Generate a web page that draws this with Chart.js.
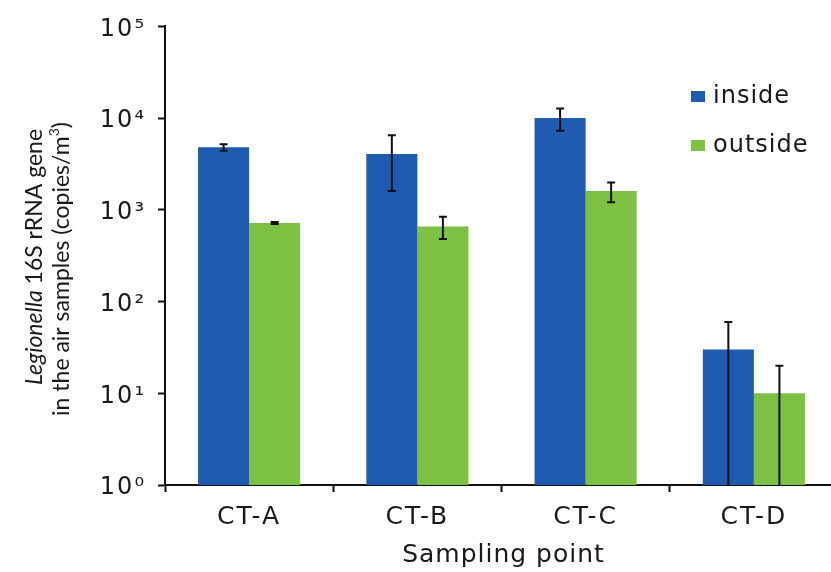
<!DOCTYPE html>
<html>
<head>
<meta charset="utf-8">
<script src="https://cdn.jsdelivr.net/npm/chart.js@4.4.1/dist/chart.umd.min.js"></script>
<style>
  html, body { margin: 0; padding: 0; background: #fff; overflow: hidden; }
  #wrap { position: relative; width: 845px; height: 572px; }
</style>
</head>
<body>
<div id="wrap"><canvas id="chart"></canvas></div>
<script>
// Sampling points and Legionella 16S rRNA gene copies per m3 (mean and SD)
const categories = ['CT-A', 'CT-B', 'CT-C', 'CT-D'];
const seriesNames = ['inside', 'outside'];
const insideMean = [4800, 4050, 10000, 30];
const insideSD = [380, 2450, 2700, 30];
const outsideMean = [720, 660, 1600, 10];
const outsideSD = [18, 180, 390, 10];
const yTickValues = [1, 10, 100, 1000, 10000, 100000];
const yTickLabels = ['10\u2070', '10\u00B9', '10\u00B2', '10\u00B3', '10\u2074', '10\u2075'];
const xTitle = 'Sampling point';

const BLUE = '#1f5bb1';
const GREEN = '#7dc143';
const INK = '#1a1a1a';
const MAIN_FONT = 'DejaVu Sans, Verdana, sans-serif';
const SPACING = '2px';

// slightly open lettering for the Verdana-style axis text
const spacingPlugin = {
  id: 'spacing',
  beforeUpdate(chart) { chart.ctx.letterSpacing = SPACING; },
  beforeDraw(chart) { chart.ctx.letterSpacing = SPACING; }
};

// vertical SD whiskers on every bar
const errorBars = {
  id: 'errorBars',
  afterDatasetsDraw(chart) {
    const { ctx, chartArea } = chart;
    const y = chart.scales.y;
    ctx.save();
    ctx.strokeStyle = '#111';
    ctx.lineWidth = 2;
    chart.data.datasets.forEach((ds, i) => {
      const meta = chart.getDatasetMeta(i);
      meta.data.forEach((bar, j) => {
        const m = ds.data[j], sd = ds.sd[j];
        const top = y.getPixelForValue(m + sd);
        const low = m - sd;
        const bottom = low > 0 ? y.getPixelForValue(low) : chartArea.bottom;
        const cap = 4;
        ctx.beginPath();
        ctx.moveTo(bar.x, top); ctx.lineTo(bar.x, bottom);
        ctx.moveTo(bar.x - cap, top); ctx.lineTo(bar.x + cap, top);
        if (low > 0) { ctx.moveTo(bar.x - cap, bottom); ctx.lineTo(bar.x + cap, bottom); }
        ctx.stroke();
      });
    });
    ctx.restore();
  }
};

// axis titles and the legend
const annotations = {
  id: 'annotations',
  afterDraw(chart) {
    const { ctx, chartArea } = chart;
    ctx.save();
    ctx.fillStyle = INK;

    // legend
    ctx.letterSpacing = '1px';
    ctx.font = '24px ' + MAIN_FONT;
    ctx.textAlign = 'left';
    ctx.textBaseline = 'alphabetic';
    const legendRows = [{ y: 103 }, { y: 152 }];
    chart.data.datasets.forEach((ds, i) => {
      const row = legendRows[i];
      ctx.fillStyle = ds.backgroundColor;
      ctx.fillRect(691, row.y - 12, 14, 11);
      ctx.fillStyle = INK;
      ctx.fillText(ds.label, 713, row.y);
    });

    // x-axis title
    ctx.textAlign = 'center';
    ctx.letterSpacing = '1px';
    ctx.font = '25px ' + MAIN_FONT;
    ctx.fillText(xTitle, (chartArea.left + chartArea.right) / 2 + 2, 562);

    // y-axis title, two rotated lines
    ctx.letterSpacing = '0px';
    const size = 23;
    const upright = size + 'px Lato, sans-serif';
    const italic = 'italic ' + size + 'px Lato, sans-serif';
    const supFont = Math.round(size * 0.62) + 'px Lato, sans-serif';

    ctx.rotate(-Math.PI / 2);
    ctx.textAlign = 'left';

    // line 1: italic genus name followed by the gene
    const p1 = 'Legionella', p2 = ' 16S rRNA gene';
    ctx.font = italic; const w1 = ctx.measureText(p1).width;
    ctx.font = upright; const w2 = ctx.measureText(p2).width;
    let start = -257 - (w1 + w2) / 2;
    ctx.font = italic; ctx.fillText(p1, start, 42);
    ctx.font = upright; ctx.fillText(p2, start + w1, 42);

    // line 2 with superscript cube
    const q1 = 'in the air samples (copies/m', q2 = '3', q3 = ')';
    ctx.font = upright; const v1 = ctx.measureText(q1).width;
    ctx.font = supFont; const v2 = ctx.measureText(q2).width;
    ctx.font = upright; const v3 = ctx.measureText(q3).width;
    start = -269 - (v1 + v2 + v3) / 2;
    ctx.font = upright; ctx.fillText(q1, start, 69);
    ctx.font = supFont; ctx.fillText(q2, start + v1, 69 - size * 0.42);
    ctx.font = upright; ctx.fillText(q3, start + v1 + v2, 69);

    ctx.restore();
  }
};

new Chart(document.getElementById('chart'), {
  type: 'bar',
  data: {
    labels: categories,
    datasets: [
      { label: seriesNames[0], data: insideMean, sd: insideSD, backgroundColor: BLUE },
      { label: seriesNames[1], data: outsideMean, sd: outsideSD, backgroundColor: GREEN }
    ]
  },
  options: {
    responsive: true,
    maintainAspectRatio: false,
    animation: false,
    devicePixelRatio: 1,
    layout: { padding: { top: 22, right: 7, left: 0, bottom: 0 } },
    datasets: { bar: { barPercentage: 1.0, categoryPercentage: 0.607, borderWidth: 0 } },
    plugins: { legend: { display: false }, tooltip: { enabled: false } },
    scales: {
      x: {
        grid: { display: true, offset: true, drawOnChartArea: false, drawTicks: true,
                tickLength: 7, tickColor: '#111', tickWidth: 2 },
        border: { display: true, color: '#111', width: 2 },
        ticks: { color: INK, font: { family: MAIN_FONT, size: 25 }, padding: 10, maxRotation: 0 },
        afterFit(s) { s.height = 87; }
      },
      y: {
        type: 'logarithmic',
        min: 1,
        max: 100000,
        afterBuildTicks(s) { s.ticks = yTickValues.map(v => ({ value: v, major: true })); },
        grid: { display: true, drawOnChartArea: false, drawTicks: true,
                tickLength: 7, tickColor: '#111', tickWidth: 2 },
        border: { display: true, color: '#111', width: 2 },
        ticks: {
          color: INK,
          font: { family: MAIN_FONT, size: 24 },
          padding: 12,
          labelOffset: 3,
          autoSkip: false,
          callback(v) { const k = yTickValues.indexOf(v); return k >= 0 ? yTickLabels[k] : ''; }
        },
        afterFit(s) { s.width = 165; }
      }
    }
  },
  plugins: [spacingPlugin, errorBars, annotations]
});
</script>
</body>
</html>
